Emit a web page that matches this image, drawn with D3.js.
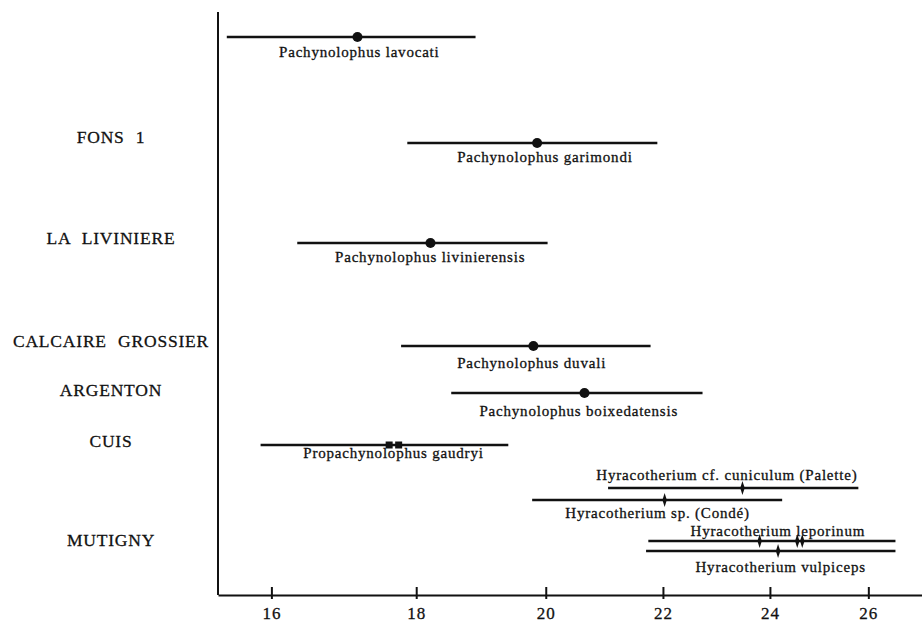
<!DOCTYPE html>
<html>
<head>
<meta charset="utf-8">
<script src="https://cdn.jsdelivr.net/npm/d3@7"></script>
<style>
  body { margin: 0; background: #fff; }
  text { font-family: "Liberation Serif", "Times New Roman", serif; fill: #111; stroke: #111; stroke-width: 0.3px; }
</style>
</head>
<body>
<div id="chart"></div>
<script>
// sites (left labels)
var sites = ["FONS 1", "LA LIVINIERE", "CALCAIRE GROSSIER", "ARGENTON", "CUIS", "MUTIGNY"];

// species with range (min, max) and mean
var species = [
  "Pachynolophus lavocati", "Pachynolophus garimondi", "Pachynolophus livinierensis",
  "Pachynolophus duvali", "Pachynolophus boixedatensis", "Propachynolophus gaudryi",
  "Hyracotherium cf. cuniculum (Palette)", "Hyracotherium sp. (Condé)",
  "Hyracotherium leporinum", "Hyracotherium vulpiceps"
];
var minVals  = [15.43, 17.87, 16.34, 17.78, 18.52, 15.86, 21.04, 19.78, 21.74, 21.70];
var maxVals  = [18.89, 21.90, 20.03, 21.78, 22.72, 19.40, 25.79, 24.24, 26.58, 26.58];
var meanVals = [17.16, 19.86, 18.21, 19.80, 20.64, 17.68, 23.47, 22.03, 23.80, 24.16];
var markers  = ["dot", "dot", "dot", "dot", "dot", "square", "spindle", "spindle", "spindle", "spindle"];
// extra means drawn on the leporinum bar
var extraMarks = [24.54, 24.64];

var tickVals = [16, 18, 20, 22, 24, 26];

// ---- layout (not data) ----
var width = 922, height = 622;
var siteLevel    = [137, 238, 341, 390, 441, 540];
var barLevel     = [37, 143, 243, 346, 393, 445, 488, 500, 541, 551];
var labelLevel   = [52, 157, 257, 363, 411, 453, 475, 513, 531, 567];
var labelStart   = [16.10, 18.61, 16.85, 18.61, 18.95, 16.42, 20.84, 20.32, 22.50, 22.59];

var svg = d3.select("#chart").append("svg")
    .attr("width", width)
    .attr("height", height);

// log scale on x
var x = d3.scaleLog().domain([15.32, 27.16]).range([218, 922]);
// vertical position scale
var y = d3.scaleLinear().domain([0, 584]).range([0, 584]);

var axisY = 595;

// vertical axis line
svg.append("line")
    .attr("x1", 218).attr("x2", 218)
    .attr("y1", 12).attr("y2", axisY)
    .attr("stroke", "#111").attr("stroke-width", 2);

var xAxis = d3.axisBottom(x)
    .tickValues(tickVals)
    .tickFormat(d3.format("d"))
    .tickSize(0);

var gx = svg.append("g")
    .attr("transform", "translate(0," + axisY + ")")
    .call(xAxis);
gx.select(".domain").attr("stroke", "#111").attr("stroke-width", 2);
gx.selectAll(".tick line").remove();
gx.selectAll(".tick").append("line")
    .attr("y1", -8).attr("y2", 4)
    .attr("stroke", "#111").attr("stroke-width", 2);
gx.selectAll(".tick text")
    .attr("y", 12)
    .attr("dy", "0.71em")
    .style("font-size", "17px")
    .style("letter-spacing", "1px")
    .style("font-family", "'Liberation Serif', serif")
    .attr("fill", "#111");

// site labels
svg.selectAll("text.site")
    .data(sites)
    .enter().append("text")
    .attr("class", "site")
    .attr("x", 111)
    .attr("y", function(d, i) { return y(siteLevel[i]); })
    .attr("dy", "0.35em")
    .attr("text-anchor", "middle")
    .style("font-size", "17.5px")
    .style("letter-spacing", "0.8px")
    .style("word-spacing", "6px")
    .text(function(d) { return d; });

// range bars
svg.selectAll("line.range")
    .data(species)
    .enter().append("line")
    .attr("class", "range")
    .attr("x1", function(d, i) { return x(minVals[i]); })
    .attr("x2", function(d, i) { return x(maxVals[i]); })
    .attr("y1", function(d, i) { return y(barLevel[i]); })
    .attr("y2", function(d, i) { return y(barLevel[i]); })
    .attr("stroke", "#111")
    .attr("stroke-width", 2.4);

// mean markers
var spindle = "M0,-7 L2.2,0 L0,7 L-2.2,0 Z";
species.forEach(function(d, i) {
    var cx = x(meanVals[i]), cy = y(barLevel[i]);
    if (markers[i] === "dot") {
        svg.append("circle")
            .attr("cx", cx).attr("cy", cy).attr("r", 5)
            .attr("fill", "#111");
    } else if (markers[i] === "square") {
        svg.append("rect")
            .attr("x", cx - 8.5).attr("y", cy - 3.5)
            .attr("width", 7).attr("height", 7).attr("fill", "#111");
        svg.append("rect")
            .attr("x", cx + 1).attr("y", cy - 3.5)
            .attr("width", 7).attr("height", 7).attr("fill", "#111");
    } else {
        svg.append("path")
            .attr("d", spindle)
            .attr("transform", "translate(" + cx + "," + cy + ")")
            .attr("fill", "#111");
    }
});

// extra marks on leporinum
svg.selectAll("path.extra")
    .data(extraMarks)
    .enter().append("path")
    .attr("class", "extra")
    .attr("d", spindle)
    .attr("transform", function(d) { return "translate(" + x(d) + "," + y(barLevel[8]) + ")"; })
    .attr("fill", "#111");

// species labels
svg.selectAll("text.species")
    .data(species)
    .enter().append("text")
    .attr("class", "species")
    .attr("x", function(d, i) { return x(labelStart[i]); })
    .attr("y", function(d, i) { return y(labelLevel[i]); })
    .attr("dy", "0.35em")
    .style("font-size", "15px")
    .style("letter-spacing", "0.8px")
    .text(function(d) { return d; });
</script>
</body>
</html>
